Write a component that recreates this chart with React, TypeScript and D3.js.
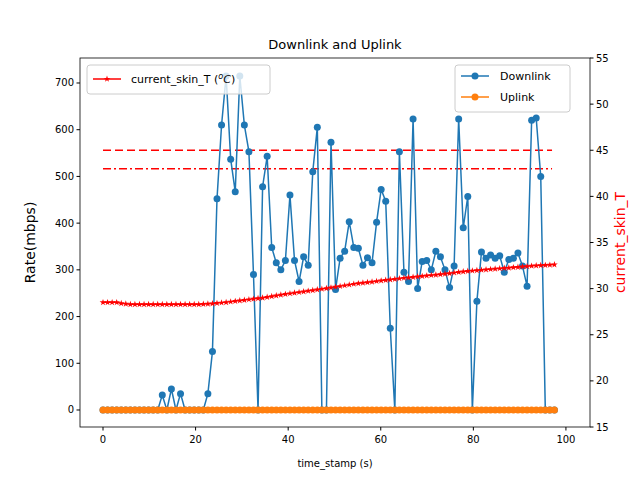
import React from 'react';
import * as d3 from 'd3';

const downlink = [
  0, 0, 0, 0, 0, 0, 0, 0, 0, 0, 0, 0, 0, 32, 0, 45, 0, 35, 0, 0, 0, 0, 0,
  35, 125, 452, 610, 715, 537, 467, 715, 610, 553, 290, 0, 478, 543, 348, 315, 300,
  320, 460, 320, 275, 328, 310, 510, 605, 0, 0, 573, 258, 325, 340, 403, 348,
  346, 310, 326, 315, 402, 472, 447, 175, 0, 553, 295, 275, 623, 260, 318, 320,
  300, 340, 328, 300, 262, 308, 623, 390, 457, 0, 233, 338, 325, 332, 325, 330, 295,
  322, 325, 336, 308, 265, 620, 625, 500, 0, 0, 0,
];
const uplink = downlink.map(() => 0);
const skinT = [
  28.5, 28.5, 28.5, 28.5, 28.4, 28.35, 28.3, 28.3, 28.3, 28.3, 28.3, 28.3, 28.3, 28.3, 28.3, 28.3,
  28.3, 28.3, 28.3, 28.3, 28.3, 28.3, 28.32, 28.35, 28.38, 28.42, 28.47, 28.52, 28.58, 28.64,
  28.7, 28.76, 28.82, 28.88, 28.94, 29.0, 29.08, 29.16, 29.24, 29.32, 29.4, 29.47, 29.54,
  29.61, 29.68, 29.75, 29.82, 29.89, 29.96, 30.03, 30.1, 30.18, 30.26, 30.34, 30.42, 30.5,
  30.56, 30.62, 30.68, 30.74, 30.8, 30.86, 30.92, 30.98, 31.04, 31.1, 31.15, 31.2, 31.25,
  31.3, 31.35, 31.4, 31.45, 31.5, 31.55, 31.6, 31.66, 31.72, 31.78, 31.84, 31.9, 31.94,
  31.98, 32.02, 32.06, 32.1, 32.14, 32.18, 32.22, 32.26, 32.3, 32.34, 32.38, 32.42, 32.46,
  32.5, 32.52, 32.54, 32.57, 32.6,
];
const times = downlink.map((_, i) => i * 0.985);
const tempLimits = [{ v: 45, dash: '8,4' }, { v: 43, dash: '8,3,2,3' }];
const xTicks = [0, 20, 40, 60, 80, 100];
const yTicks = [0, 100, 200, 300, 400, 500, 600, 700];
const y2Ticks = [15, 20, 25, 30, 35, 40, 45, 50, 55];

const L = 80, R = 590, T = 58, B = 427;
const font = 'DejaVu Sans, sans-serif';

export default function App() {
  const x = d3.scaleLinear().domain([-4.97, 105.2]).range([L, R]);
  const y = d3.scaleLinear().domain([-36.4, 753.5]).range([B, T]);
  const y2 = d3.scaleLinear().domain([15, 55]).range([B, T]);
  const lineD = d3.line<number>().x((_, i) => x(times[i])).y(d => y(d));
  const lineT = d3.line<number>().x((_, i) => x(times[i])).y(d => y2(d));
  const star = d3.symbol(d3.symbolStar, 14)() as string;

  return (
    <svg width={640} height={480} style={{ position: 'absolute', left: 0, top: 0 }} fontFamily={font}>
      <rect width={640} height={480} fill="white" />
      <text x={335} y={49} textAnchor="middle" fontSize={13}>Downlink and Uplink</text>
      {tempLimits.map(l => (
        <line key={l.v} x1={x(0)} x2={x(97)} y1={y2(l.v)} y2={y2(l.v)} stroke="red" strokeWidth={1.5} strokeDasharray={l.dash} />
      ))}
      <path d={lineD(downlink) ?? ''} fill="none" stroke="#1f77b4" strokeWidth={1.5} />
      {downlink.map((d, i) => <circle key={i} cx={x(times[i])} cy={y(d)} r={3.5} fill="#1f77b4" />)}
      <path d={lineD(uplink) ?? ''} fill="none" stroke="#ff7f0e" strokeWidth={1.5} />
      {uplink.map((d, i) => <circle key={i} cx={x(times[i])} cy={y(d)} r={3.5} fill="#ff7f0e" />)}
      <path d={lineT(skinT) ?? ''} fill="none" stroke="red" strokeWidth={1.2} />
      {skinT.map((d, i) => <path key={i} d={star} transform={`translate(${x(times[i])},${y2(d)})`} fill="red" />)}
      <rect x={L} y={T} width={R - L} height={B - T} fill="none" stroke="black" strokeWidth={0.8} />
      {xTicks.map(t => (
        <g key={t}>
          <line x1={x(t)} x2={x(t)} y1={B} y2={B + 3.5} stroke="black" />
          <text x={x(t)} y={B + 16} textAnchor="middle" fontSize={10}>{t}</text>
        </g>
      ))}
      {yTicks.map(t => (
        <g key={t}>
          <line x1={L - 3.5} x2={L} y1={y(t)} y2={y(t)} stroke="black" />
          <text x={L - 6} y={y(t) + 3.5} textAnchor="end" fontSize={10}>{t}</text>
        </g>
      ))}
      {y2Ticks.map(t => (
        <g key={t}>
          <line x1={R} x2={R + 3.5} y1={y2(t)} y2={y2(t)} stroke="black" />
          <text x={R + 6} y={y2(t) + 3.5} fontSize={10}>{t}</text>
        </g>
      ))}
      <text x={335} y={467} textAnchor="middle" fontSize={10}>time_stamp (s)</text>
      <text transform={`translate(35,${(T + B) / 2}) rotate(-90)`} textAnchor="middle" fontSize={14}>Rate(mbps)</text>
      <text transform={`translate(625,${(T + B) / 2}) rotate(-90)`} textAnchor="middle" fontSize={14} fill="red">current_skin_T</text>
      <g>
        <rect x={87} y={65} width={183} height={29} rx={3} fill="white" fillOpacity={0.8} stroke="#ccc" />
        <line x1={93} x2={121} y1={79} y2={79} stroke="red" strokeWidth={1.5} />
        <path d={star} transform="translate(107,79)" fill="red" />
        <text x={131} y={83} fontSize={11}>current_skin_T (<tspan fontStyle="italic"><tspan dy={-4} fontSize={8}>o</tspan><tspan dy={4}>C</tspan></tspan>)</text>
      </g>
      <g>
        <rect x={455} y={65} width={115} height={47} rx={3} fill="white" fillOpacity={0.8} stroke="#ccc" />
        <line x1={461} x2={489} y1={76} y2={76} stroke="#1f77b4" strokeWidth={1.5} />
        <circle cx={475} cy={76} r={3.5} fill="#1f77b4" />
        <text x={500} y={80} fontSize={11}>Downlink</text>
        <line x1={461} x2={489} y1={97} y2={97} stroke="#ff7f0e" strokeWidth={1.5} />
        <circle cx={475} cy={97} r={3.5} fill="#ff7f0e" />
        <text x={500} y={101} fontSize={11}>Uplink</text>
      </g>
    </svg>
  );
}
